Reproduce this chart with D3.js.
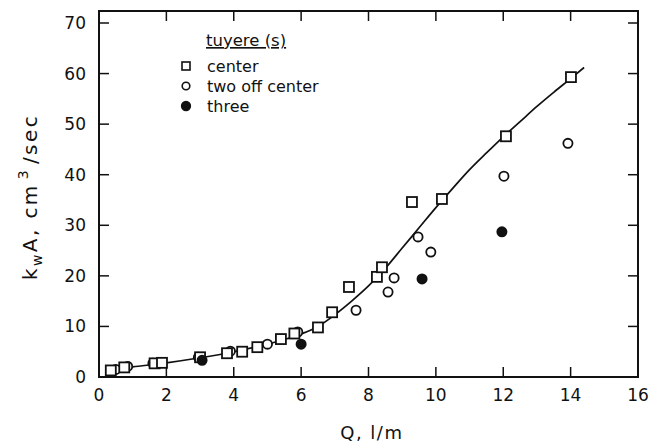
<!DOCTYPE html>
<html>
<head>
<meta charset="utf-8">
<script src="https://cdn.jsdelivr.net/npm/d3@7"></script>
<style>
  html, body { margin: 0; padding: 0; background: #fff; }
  svg { display: block; font-family: "DejaVu Sans", "Liberation Sans", sans-serif; }
</style>
</head>
<body>
<svg id="chart" width="659" height="447"></svg>
<script>
// Mass-transfer data: kwA (cm^3/sec) against gas flow Q (l/m)
const centerQ = [0.35, 0.75, 1.65, 1.87, 3.0, 3.8, 4.25, 4.7, 5.4, 5.8, 6.5, 6.92, 7.42, 8.25, 8.4, 9.29, 10.18, 12.08, 14.01];
const centerK = [1.3, 1.9, 2.7, 2.8, 3.9, 4.7, 5.0, 5.9, 7.5, 8.6, 9.8, 12.8, 17.8, 19.8, 21.7, 34.6, 35.2, 47.6, 59.3];

const twoQ = [0.5, 0.85, 1.6, 2.95, 3.9, 5.0, 5.9, 7.63, 8.58, 8.76, 9.47, 9.85, 12.02, 13.92];
const twoK = [1.5, 2.1, 2.7, 3.9, 5.1, 6.5, 8.9, 13.2, 16.8, 19.6, 27.7, 24.7, 39.7, 46.2];

const threeQ = [3.06, 6.0, 9.59, 11.96];
const threeK = [3.3, 6.5, 19.4, 28.7];

// Smooth fitted curve through the center-tuyere data
const fitQ = [0.3, 1, 2, 3, 4, 5, 6, 6.5, 7, 7.5, 8, 8.5, 9, 9.5, 10, 10.5, 11, 11.5, 12, 12.5, 13, 13.5, 14, 14.4];
const fitK = [1.4, 2.0, 2.8, 3.8, 5.0, 6.5, 8.5, 10.0, 12.3, 15.0, 18.0, 21.5, 25.5, 29.5, 33.5, 37.3, 41.0, 44.3, 47.5, 50.5, 53.5, 56.3, 59.0, 61.2];

const xTicks = [0, 2, 4, 6, 8, 10, 12, 14, 16];
const yTicks = [0, 10, 20, 30, 40, 50, 60, 70];

const legendLabels = ["center", "two off center", "three"];

const svg = d3.select("#chart");
const plotL = 99, plotR = 638, plotT = 11, plotB = 377;

const x = d3.scaleLinear().domain([0, 16]).range([plotL, plotR]);
const y = d3.scaleLinear().domain([0, 70]).range([plotB, 23]);

const ink = "#111";

// Frame with inward ticks on all four sides
svg.append("rect")
  .attr("x", plotL).attr("y", plotT)
  .attr("width", plotR - plotL).attr("height", plotB - plotT)
  .attr("fill", "none").attr("stroke", ink).attr("stroke-width", 2);

const tickLen = 10;
const gx = svg.append("g").attr("stroke", ink).attr("stroke-width", 1.5);
xTicks.slice(1, -1).forEach(t => {
  gx.append("line").attr("x1", x(t)).attr("x2", x(t)).attr("y1", plotB).attr("y2", plotB - tickLen);
  gx.append("line").attr("x1", x(t)).attr("x2", x(t)).attr("y1", plotT).attr("y2", plotT + tickLen);
});
yTicks.slice(1).forEach(t => {
  gx.append("line").attr("x1", plotL).attr("x2", plotL + tickLen).attr("y1", y(t)).attr("y2", y(t));
  gx.append("line").attr("x1", plotR).attr("x2", plotR - tickLen).attr("y1", y(t)).attr("y2", y(t));
});

// Tick labels
svg.append("g").selectAll("text").data(xTicks).join("text")
  .attr("x", d => x(d)).attr("y", 401)
  .attr("text-anchor", "middle").attr("font-size", 17).attr("fill", ink)
  .text(d => d);

svg.append("g").selectAll("text").data(yTicks).join("text")
  .attr("x", 86).attr("y", d => y(d) + 6)
  .attr("text-anchor", "end").attr("font-size", 17).attr("fill", ink)
  .text(d => d);

// Axis titles
svg.append("text")
  .attr("x", x(8.1)).attr("y", 439)
  .attr("text-anchor", "middle").attr("font-size", 18).attr("letter-spacing", 1.5).attr("fill", ink)
  .text("Q, l/m");

const yt = svg.append("text")
  .attr("transform", "translate(37,197) rotate(-90)")
  .attr("text-anchor", "middle").attr("font-size", 20).attr("letter-spacing", 2.4).attr("fill", ink);
yt.append("tspan").text("k");
yt.append("tspan").attr("font-size", 14).attr("dy", 5).text("w");
yt.append("tspan").attr("dy", -5).text("A, cm");
yt.append("tspan").attr("font-size", 14).attr("dy", -9).attr("dx", 4).text("3");
yt.append("tspan").attr("dy", 9).attr("dx", 4).text("/sec");

// Fitted curve
const line = d3.line()
  .x((d, i) => x(fitQ[i]))
  .y((d, i) => y(fitK[i]))
  .curve(d3.curveMonotoneX);
svg.append("path")
  .datum(fitQ)
  .attr("d", line)
  .attr("fill", "none").attr("stroke", ink).attr("stroke-width", 1.7);

// Markers
const sq = 10, r = 4.6;
const drawSquares = (g, qs, ks) => g.selectAll("rect").data(qs).join("rect")
  .attr("x", (d, i) => x(d) - sq / 2).attr("y", (d, i) => y(ks[i]) - sq / 2)
  .attr("width", sq).attr("height", sq)
  .attr("fill", "#fff").attr("stroke", ink).attr("stroke-width", 1.8);

const drawCircles = (g, qs, ks, filled) => g.selectAll("circle").data(qs).join("circle")
  .attr("cx", d => x(d)).attr("cy", (d, i) => y(ks[i]))
  .attr("r", r)
  .attr("fill", filled ? ink : "#fff").attr("stroke", ink).attr("stroke-width", 1.8);

drawCircles(svg.append("g"), twoQ, twoK, false);
drawSquares(svg.append("g"), centerQ, centerK);
drawCircles(svg.append("g"), threeQ, threeK, true);

// Legend
const lg = svg.append("g");
lg.append("text")
  .attr("x", 206).attr("y", 46)
  .attr("font-size", 16.5).attr("fill", ink)
  .attr("text-decoration", "underline")
  .text("tuyere (s)");

const rowY = [66, 86, 106];
lg.append("rect").attr("x", 186 - 4).attr("y", rowY[0] - 4).attr("width", 8).attr("height", 8)
  .attr("fill", "#fff").attr("stroke", ink).attr("stroke-width", 1.6);
lg.append("circle").attr("cx", 186).attr("cy", rowY[1]).attr("r", 3.8)
  .attr("fill", "#fff").attr("stroke", ink).attr("stroke-width", 1.6);
lg.append("circle").attr("cx", 186).attr("cy", rowY[2]).attr("r", 4.4)
  .attr("fill", ink).attr("stroke", ink).attr("stroke-width", 1.5);

lg.selectAll("text.item").data(legendLabels).join("text")
  .attr("class", "item")
  .attr("x", 207).attr("y", (d, i) => rowY[i] + 6)
  .attr("font-size", 16).attr("fill", ink)
  .text(d => d);
</script>
</body>
</html>
